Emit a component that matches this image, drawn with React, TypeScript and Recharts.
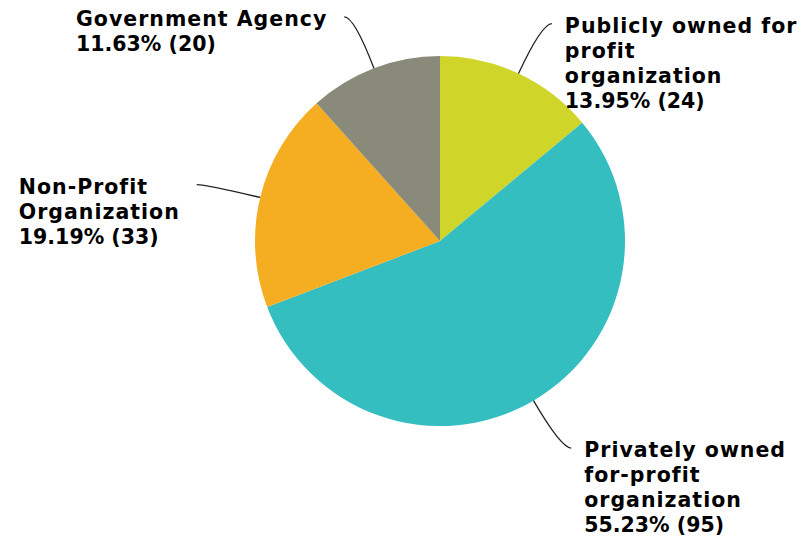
import React from "react";
import { PieChart, Pie, Cell } from "recharts";

const categories = [
  "Publicly owned for\nprofit\norganization",
  "Privately owned\nfor-profit\norganization",
  "Non-Profit\nOrganization",
  "Government Agency",
];
const counts = [24, 95, 33, 20];
const colors = ["#d0d52a", "#34bec0", "#f5ad21", "#8a8a7a"];

const data = categories.map((name, i) => ({ name, value: counts[i] }));

const FONT_SIZE = 20.5;
const FONT_FAMILY = "'DejaVu Sans', sans-serif";
const LINE_H = 25;
const NAME_SPACING = 1;
const RAD = Math.PI / 180;

let ctx: CanvasRenderingContext2D | null = null;
function measure(t: string, spacing: number): number {
  if (typeof document === "undefined") return t.length * 12;
  if (!ctx) {
    const c = document.createElement("canvas");
    ctx = c.getContext("2d");
  }
  if (!ctx) return t.length * 12;
  ctx.font = `bold ${FONT_SIZE}px ${FONT_FAMILY}`;
  return ctx.measureText(t).width + spacing * t.length;
}

const renderLabel = (props: any) => {
  const { cx, cy, midAngle, outerRadius, percent, value, name } = props;
  const polar = (r: number) => [
    cx + r * Math.cos(-midAngle * RAD),
    cy + r * Math.sin(-midAngle * RAD),
  ];
  const [sx, sy] = polar(outerRadius);
  const [qx, qy] = polar(outerRadius + 55);
  const dir = Math.cos(-midAngle * RAD) >= 0 ? 1 : -1;
  const ex = qx + dir * 10;
  const ey = qy;
  const nameLines = String(name).split("\n");
  const pctLine = `${(percent * 100).toFixed(2)}% (${value})`;
  const lines = [
    ...nameLines.map((t) => ({ t, s: NAME_SPACING })),
    { t: pctLine, s: 0 },
  ];
  const maxW = Math.max(...lines.map((l) => measure(l.t, l.s)));
  const tx = dir > 0 ? ex + 13 : ex - 17 - maxW;
  return (
    <g>
      <path
        d={`M${sx},${sy} Q${qx},${qy} ${ex},${ey}`}
        stroke="#222"
        strokeWidth={1.3}
        fill="none"
      />
      <text
        x={tx}
        y={ey + 2}
        fill="#000"
        fontSize={FONT_SIZE}
        fontWeight="bold"
        fontFamily={FONT_FAMILY}
        textAnchor="start"
        dominantBaseline="central"
      >
        {lines.map((l, i) => (
          <tspan key={i} x={tx} dy={i === 0 ? 0 : LINE_H} letterSpacing={l.s}>
            {l.t}
          </tspan>
        ))}
      </text>
    </g>
  );
};

export default function App() {
  return (
    <div style={{ position: "absolute", left: 0, top: 0, width: 803, height: 537, background: "#fff" }}>
      <PieChart width={803} height={537} margin={{ top: 0, right: 0, bottom: 0, left: 0 }}>
        <Pie
          data={data}
          dataKey="value"
          nameKey="name"
          cx={440}
          cy={241}
          outerRadius={185}
          startAngle={90}
          endAngle={-270}
          stroke="none"
          label={renderLabel}
          labelLine={false}
          isAnimationActive={false}
        >
          {data.map((d, i) => (
            <Cell key={d.name} fill={colors[i]} />
          ))}
        </Pie>
      </PieChart>
    </div>
  );
}
